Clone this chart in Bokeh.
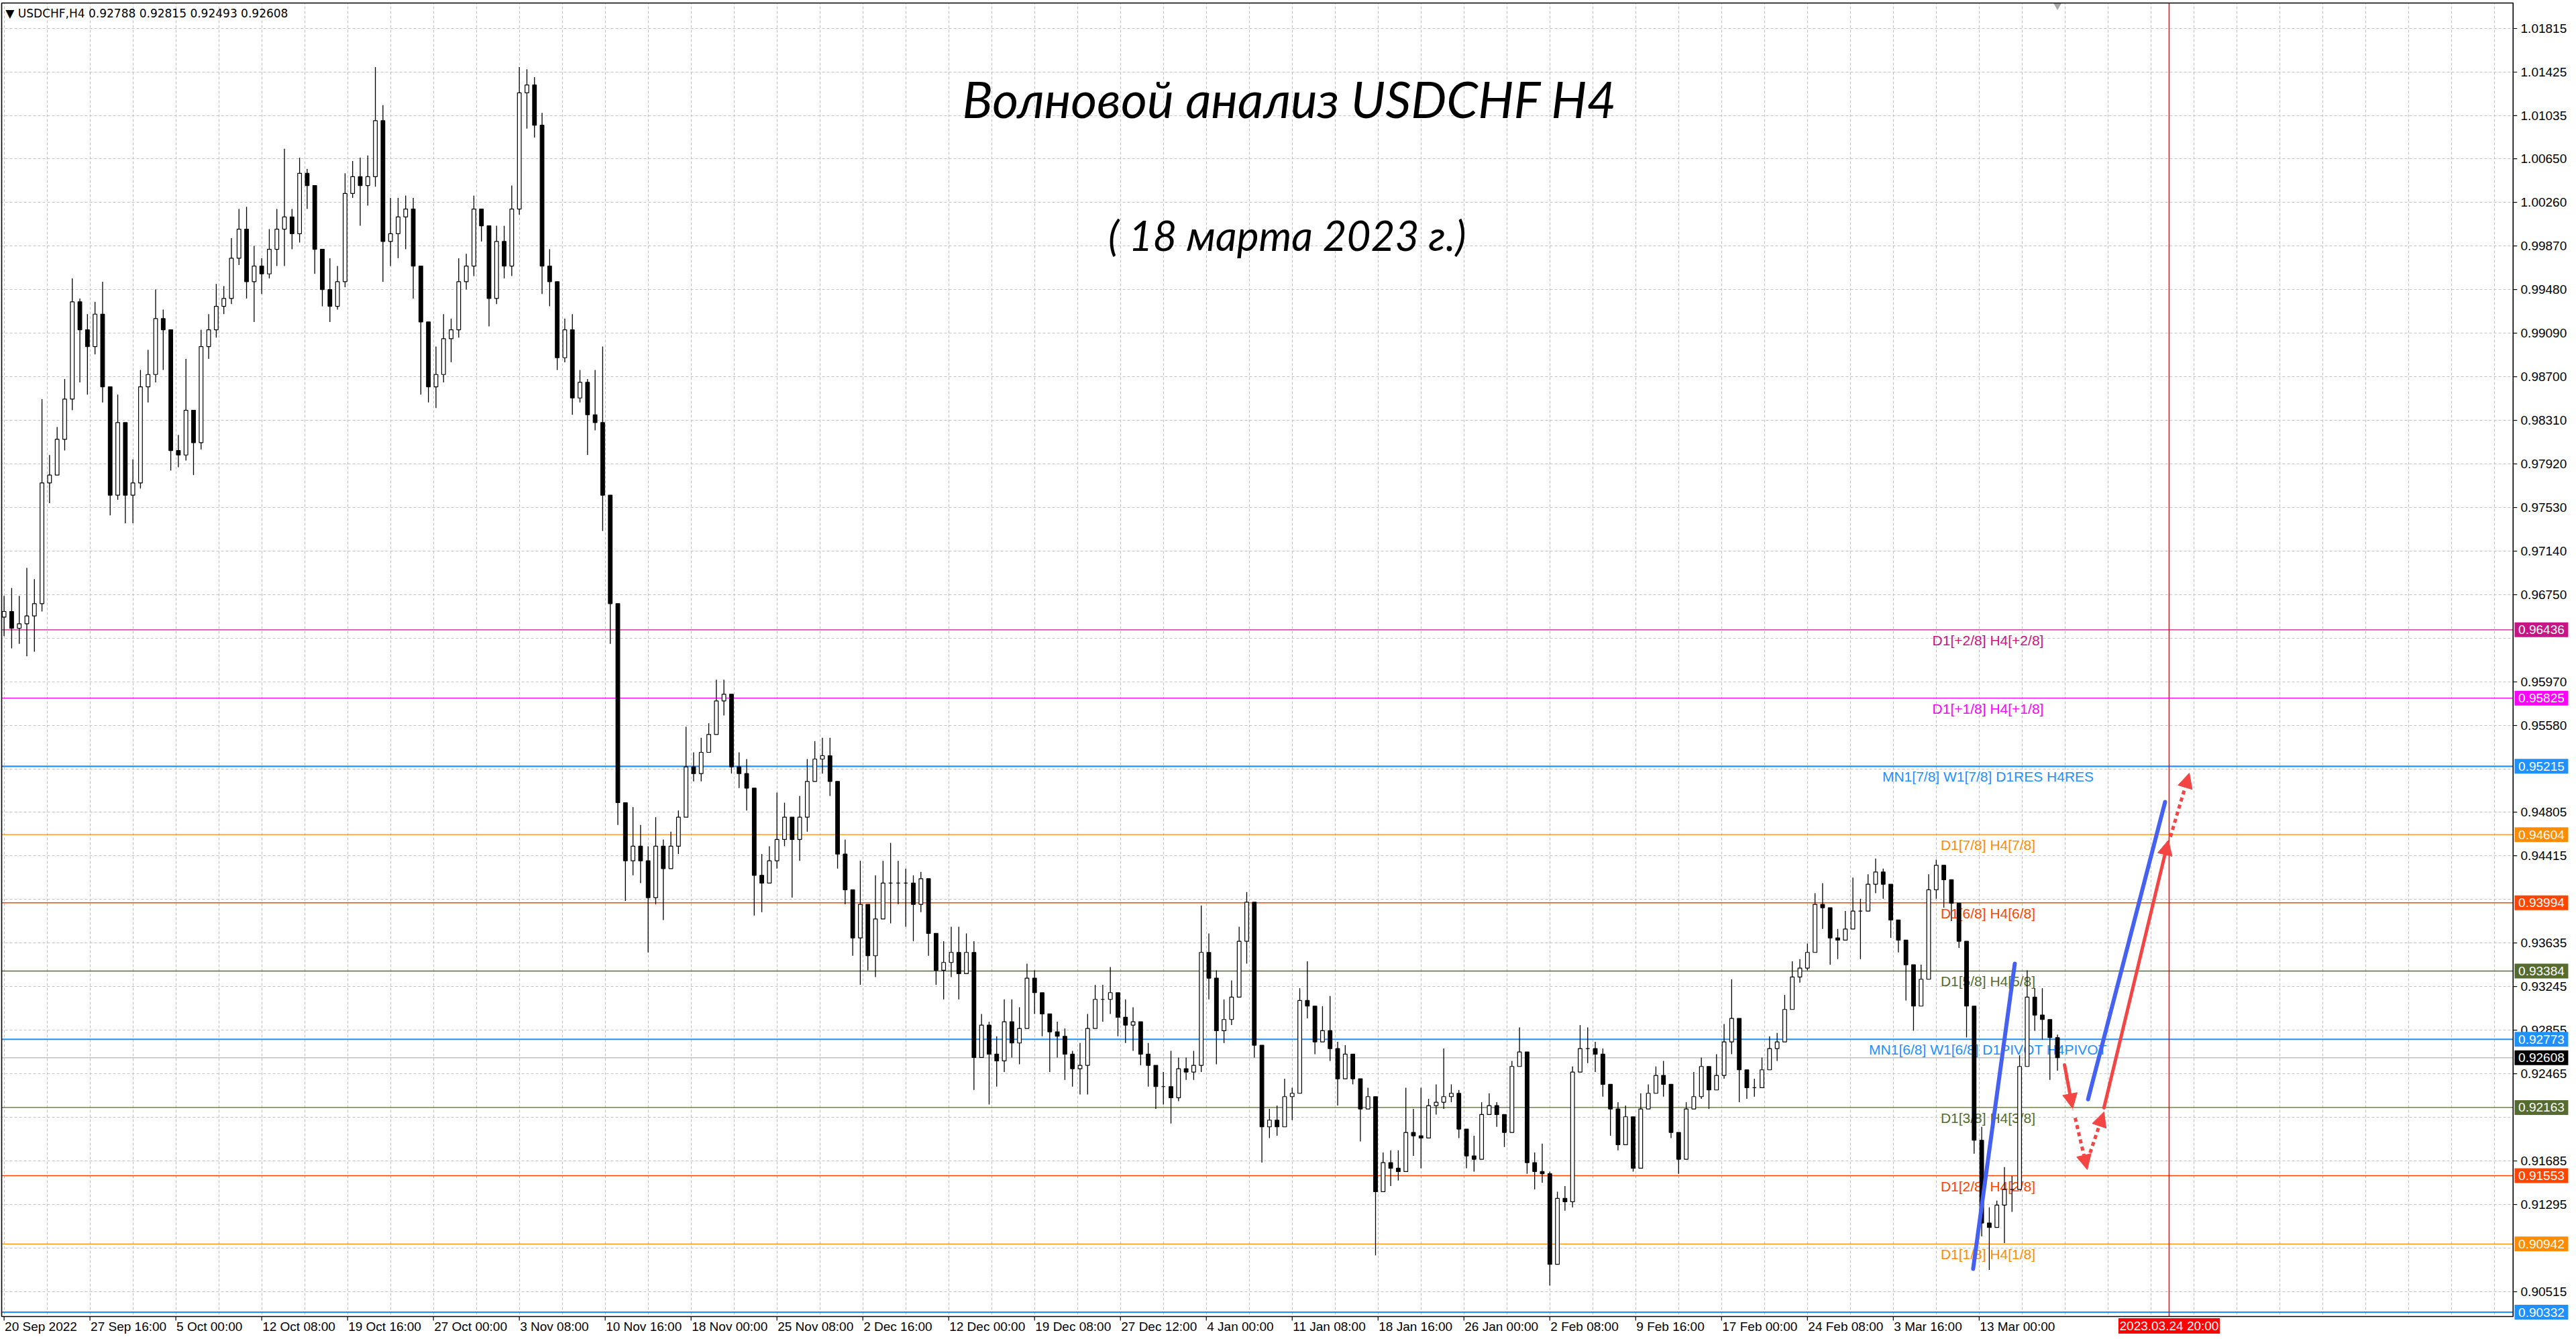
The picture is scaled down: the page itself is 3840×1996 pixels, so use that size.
from bokeh.plotting import figure
from bokeh.models import (ColumnDataSource, FixedTicker, Arrow, NormalHead,
                          Range1d, Grid, Label)
from bokeh.core.properties import value
from bokeh.embed import file_html
from bokeh.resources import INLINE

# USDCHF H4, 20 Sep 2022 .. 17 Mar 2023, one drawn candle per 3 H4 bars
STEP = 3
first_open = 0.9655

closes = [
    0.9660, 0.9645, 0.9649, 0.9656, 0.9667, 0.9775, 0.9782, 0.9814, 0.9850, 0.9937,
    0.9912, 0.9897, 0.9926, 0.9861, 0.9764, 0.9829, 0.9764, 0.9775, 0.9861, 0.9872,
    0.9922, 0.9912, 0.9804, 0.9800, 0.9840, 0.9811, 0.9897, 0.9912, 0.9933, 0.9940,
    0.9976, 1.0002, 0.9955, 0.9969, 0.9962, 0.9984, 1.0002, 1.0013, 0.9998, 1.0052,
    1.0041, 0.9984, 0.9948, 0.9933, 0.9955, 1.0034, 1.0049, 1.0041, 1.0049, 1.0099,
    0.9991, 0.9998, 1.0013, 1.0020, 0.9969, 0.9919, 0.9861, 0.9872, 0.9904, 0.9912,
    0.9955, 0.9969, 1.0020, 1.0005, 0.9940, 0.9991, 0.9969, 1.0020, 1.0124, 1.0131,
    1.0095, 0.9969, 0.9955, 0.9887, 0.9912, 0.9851, 0.9865, 0.9836, 0.9829, 0.9764,
    0.9667,
    0.9489, 0.9437, 0.9450, 0.9437, 0.9404, 0.9450, 0.9430, 0.9450, 0.9476,
    0.9521, 0.9515, 0.9534, 0.9550, 0.9580, 0.9586, 0.9521, 0.9515, 0.9502, 0.9424,
    0.9417, 0.9437, 0.9456, 0.9476, 0.9456, 0.9476, 0.9508, 0.9528, 0.9531, 0.9508,
    0.9443, 0.9411, 0.9368, 0.9398, 0.9352, 0.9385, 0.9417, 0.9417, 0.9417, 0.9417,
    0.9398, 0.9421, 0.9372, 0.9339, 0.9346, 0.9355, 0.9336, 0.9355, 0.9261, 0.9290,
    0.9264, 0.9258, 0.9293, 0.9274, 0.9287, 0.9332, 0.9319, 0.9300, 0.9284, 0.9280,
    0.9264, 0.9251, 0.9254, 0.9287, 0.9313, 0.9313, 0.9319, 0.9297, 0.9290, 0.9293,
    0.9264, 0.9254, 0.9235, 0.9235, 0.9225, 0.9251, 0.9248, 0.9254, 0.9355, 0.9332,
    0.9285, 0.9295, 0.9315, 0.9365, 0.9400, 0.9272,
    0.9199, 0.9205, 0.9199, 0.9226,
    0.9229, 0.9312, 0.9307, 0.9275, 0.9285, 0.9269, 0.9242, 0.9264, 0.9242, 0.9215,
    0.9226, 0.9141, 0.9167, 0.9162, 0.9159, 0.9194, 0.9191, 0.9189, 0.9218, 0.9221,
    0.9226, 0.9229, 0.9197, 0.9173, 0.9170, 0.9210, 0.9218, 0.9210, 0.9194, 0.9253,
    0.9266, 0.9167, 0.9159, 0.9157, 0.9076, 0.9135, 0.9132, 0.9248, 0.9269, 0.9269,
    0.9264, 0.9237, 0.9215, 0.9183, 0.9208, 0.9162, 0.9215, 0.9229, 0.9245, 0.9237,
    0.9194, 0.9170, 0.9215, 0.9226, 0.9253, 0.9232, 0.9245, 0.9275, 0.9296, 0.9250,
    0.9234, 0.9234, 0.9250, 0.9269, 0.9275, 0.9304, 0.9333, 0.9341, 0.9355, 0.9398,
    0.9395, 0.9368, 0.9366, 0.9376, 0.9392, 0.9392, 0.9416, 0.9427, 0.9416, 0.9384,
    0.9366, 0.9344, 0.9307, 0.9331, 0.9411, 0.9433, 0.9420,
    0.9399, 0.9365, 0.9307, 0.9187, 0.9113, 0.9109, 0.9129, 0.9143, 0.9143, 0.9253,
    0.9315, 0.9299, 0.9295, 0.92788, 0.92608,
]

highs = [
    0.9674, 0.9681, 0.9674, 0.9699, 0.9689, 0.9850, 0.9800, 0.9825, 0.9868, 0.9958,
    0.9940, 0.9926, 0.9937, 0.9955, 0.9858, 0.9854, 0.9811, 0.9796, 0.9876, 0.9894,
    0.9948, 0.9930, 0.9868, 0.9818, 0.9886, 0.9825, 0.9912, 0.9926, 0.9953, 0.9951,
    0.9994, 1.0020, 1.0022, 0.9987, 0.9976, 1.0002, 1.0020, 1.0074, 1.0020, 1.0066,
    1.0056, 1.0030, 0.9969, 0.9976, 0.9969, 1.0052, 1.0063, 1.0066, 1.0068, 1.0147,
    1.0113, 1.0030, 1.0030, 1.0032, 1.0030, 0.9940, 0.9879, 0.9897, 0.9926, 0.9922,
    0.9976, 0.9980, 1.0032, 1.0020, 0.9998, 1.0005, 1.0005, 1.0041, 1.0147, 1.0145,
    1.0138, 1.0106, 0.9984, 0.9919, 0.9922, 0.9926, 0.9876, 0.9868, 0.9876, 0.9897,
    0.9696,
    0.9600, 0.9489, 0.9485, 0.9469, 0.9450, 0.9476, 0.9456, 0.9463, 0.9482,
    0.9557, 0.9534, 0.9547, 0.9560, 0.9599, 0.9599, 0.9580, 0.9534, 0.9528, 0.9495,
    0.9443, 0.9450, 0.9498, 0.9489, 0.9476, 0.9495, 0.9528, 0.9544, 0.9547, 0.9547,
    0.9508, 0.9456, 0.9411, 0.9437, 0.9398, 0.9424, 0.9437, 0.9453, 0.9437, 0.9430,
    0.9424, 0.9427, 0.9421, 0.9372, 0.9365, 0.9378, 0.9378, 0.9372, 0.9365, 0.9300,
    0.9293, 0.9280, 0.9313, 0.9313, 0.9306, 0.9345, 0.9339, 0.9319, 0.9300, 0.9293,
    0.9287, 0.9267, 0.9274, 0.9300, 0.9326, 0.9326, 0.9342, 0.9319, 0.9313, 0.9306,
    0.9293, 0.9274, 0.9254, 0.9248, 0.9267, 0.9261, 0.9261, 0.9267, 0.9397, 0.9372,
    0.9339, 0.9313, 0.9330, 0.9378, 0.9409, 0.9400,
    0.9253, 0.9215, 0.9218, 0.9242,
    0.9234, 0.9323, 0.9347, 0.9291, 0.9307, 0.9316, 0.9275, 0.9272, 0.9264, 0.9226,
    0.9234, 0.9226, 0.9176, 0.9178, 0.9178, 0.9234, 0.9215, 0.9234, 0.9224, 0.9237,
    0.9269, 0.9237, 0.9232, 0.9197, 0.9191, 0.9221, 0.9229, 0.9221, 0.9210, 0.9258,
    0.9288, 0.9237, 0.9176, 0.9184, 0.9159, 0.9141, 0.9146, 0.9253, 0.9290, 0.9288,
    0.9275, 0.9269, 0.9224, 0.9221, 0.9218, 0.9199, 0.9229, 0.9237, 0.9253, 0.9258,
    0.9237, 0.9184, 0.9221, 0.9248, 0.9261, 0.9248, 0.9264, 0.9291, 0.9331, 0.9269,
    0.9248, 0.9242, 0.9261, 0.9280, 0.9283, 0.9317, 0.9347, 0.9349, 0.9363, 0.9408,
    0.9417, 0.9384, 0.9376, 0.9392, 0.9422, 0.9403, 0.9425, 0.9439, 0.9430, 0.9414,
    0.9376, 0.9366, 0.9328, 0.9344, 0.9425, 0.9438, 0.9433,
    0.9412, 0.9379, 0.9325, 0.9283, 0.9199, 0.9127, 0.9133, 0.9163, 0.9155, 0.9263,
    0.9339, 0.9323, 0.9323, 0.9287, 0.92815,
]

lows = [
    0.9638, 0.9627, 0.9631, 0.9620, 0.9624, 0.9660, 0.9757, 0.9789, 0.9804, 0.9840,
    0.9865, 0.9854, 0.9890, 0.9847, 0.9746, 0.9760, 0.9739, 0.9739, 0.9770, 0.9847,
    0.9865, 0.9876, 0.9786, 0.9789, 0.9795, 0.9782, 0.9805, 0.9886, 0.9905, 0.9926,
    0.9935, 0.9970, 0.9940, 0.9919, 0.9944, 0.9958, 0.9969, 0.9969, 0.9984, 0.9990,
    1.0020, 0.9962, 0.9933, 0.9919, 0.9930, 0.9950, 1.0030, 1.0005, 1.0023, 1.0040,
    0.9955, 0.9969, 0.9976, 0.9984, 0.9940, 0.9854, 0.9847, 0.9842, 0.9865, 0.9883,
    0.9905, 0.9948, 0.9960, 0.9991, 0.9915, 0.9935, 0.9958, 0.9960, 1.0015, 1.0092,
    1.0084, 0.9944, 0.9933, 0.9876, 0.9883, 0.9836, 0.9847, 0.9800, 0.9822, 0.9732,
    0.9631,
    0.9469, 0.9401, 0.9424, 0.9417, 0.9355, 0.9398, 0.9384, 0.9430, 0.9443,
    0.9476, 0.9508, 0.9508, 0.9534, 0.9550, 0.9567, 0.9515, 0.9502, 0.9482, 0.9388,
    0.9391, 0.9417, 0.9430, 0.9450, 0.9404, 0.9437, 0.9463, 0.9508, 0.9515, 0.9495,
    0.9430, 0.9398, 0.9352, 0.9326, 0.9339, 0.9333, 0.9385, 0.9381, 0.9398, 0.9378,
    0.9365, 0.9391, 0.9352, 0.9326, 0.9313, 0.9333, 0.9313, 0.9336, 0.9232, 0.9261,
    0.9219, 0.9235, 0.9248, 0.9261, 0.9255, 0.9287, 0.9300, 0.9280, 0.9248, 0.9261,
    0.9241, 0.9235, 0.9228, 0.9228, 0.9287, 0.9293, 0.9300, 0.9280, 0.9274, 0.9267,
    0.9254, 0.9235, 0.9215, 0.9219, 0.9202, 0.9222, 0.9241, 0.9241, 0.9248, 0.9313,
    0.9255, 0.9274, 0.9290, 0.9315, 0.9345, 0.9261,
    0.9167, 0.9189, 0.9191, 0.9210,
    0.9205, 0.9229, 0.9296, 0.9264, 0.9275, 0.9258, 0.9218, 0.9253, 0.9237, 0.9186,
    0.9215, 0.9084, 0.9141, 0.9146, 0.9151, 0.9159, 0.9173, 0.9162, 0.9191, 0.9210,
    0.9215, 0.9221, 0.9189, 0.9162, 0.9159, 0.9189, 0.9210, 0.9199, 0.9181, 0.9232,
    0.9253, 0.9157, 0.9143, 0.9149, 0.9057, 0.9076, 0.9124, 0.9127, 0.9253, 0.9256,
    0.9248, 0.9226, 0.9191, 0.9178, 0.9189, 0.9159, 0.9189, 0.9215, 0.9232, 0.9226,
    0.9189, 0.9157, 0.9173, 0.9215, 0.9224, 0.9215, 0.9232, 0.9242, 0.9264, 0.9221,
    0.9224, 0.9226, 0.9242, 0.9253, 0.9258, 0.9285, 0.9317, 0.9328, 0.9339, 0.9368,
    0.9376, 0.9344, 0.9349, 0.9366, 0.9379, 0.9349, 0.9398, 0.9408, 0.9403, 0.9368,
    0.9355, 0.9312, 0.9285, 0.9307, 0.9344, 0.9403, 0.9395,
    0.9383, 0.9359, 0.9279, 0.9175, 0.9101, 0.9071, 0.9109, 0.9095, 0.9123, 0.9143,
    0.9263, 0.9285, 0.9277, 0.9241, 0.92493,
]

# time scale (bar numbers) and its labels
x_ticks = [0, 34, 68, 102, 136, 170, 204, 238, 272, 306, 340, 374,
           408, 442, 476, 510, 544, 578, 612, 646, 680, 714, 748, 782]
x_labels = ["20 Sep 2022", "27 Sep 16:00", "5 Oct 00:00", "12 Oct 08:00",
            "19 Oct 16:00", "27 Oct 00:00", "3 Nov 08:00", "10 Nov 16:00",
            "18 Nov 00:00", "25 Nov 08:00", "2 Dec 16:00", "12 Dec 00:00",
            "19 Dec 08:00", "27 Dec 12:00", "4 Jan 00:00", "11 Jan 08:00",
            "18 Jan 16:00", "26 Jan 00:00", "2 Feb 08:00", "9 Feb 16:00",
            "17 Feb 00:00", "24 Feb 08:00", "3 Mar 16:00", "13 Mar 00:00"]
x_grid = list(range(0, 994, 17))
future_bar = 857.2
future_label = "2023.03.24 20:00"

y_ticks = [1.01815, 1.01425, 1.01035, 1.00650, 1.00260, 0.99870, 0.99480,
           0.99090, 0.98700, 0.98310, 0.97920, 0.97530, 0.97140, 0.96750,
           0.96360, 0.95970, 0.95580, 0.95190, 0.94805, 0.94415, 0.94025,
           0.93635, 0.93245, 0.92855, 0.92465, 0.92075, 0.91685, 0.91295,
           0.90905, 0.90515]
hidden_ticks = [0.96360, 0.95190, 0.94025, 0.92075, 0.90905]

# Murrey math levels
levels = [0.96436, 0.95825, 0.95215, 0.94604, 0.93994, 0.93384,
          0.92773, 0.92163, 0.91553, 0.90942, 0.90332]
level_names = ["D1[+2/8] H4[+2/8]", "D1[+1/8] H4[+1/8]",
               "MN1[7/8] W1[7/8] D1RES H4RES", "D1[7/8] H4[7/8]",
               "D1[6/8] H4[6/8]", "D1[5/8] H4[5/8]",
               "MN1[6/8] W1[6/8] D1PIVOT H4PIVOT", "D1[3/8] H4[3/8]",
               "D1[2/8] H4[2/8]", "D1[1/8] H4[1/8]", ""]
level_colors = ["#C71585", "#FF00FF", "#1E90FF", "#FF8C00", "#FF4500",
                "#556B2F", "#1E90FF", "#556B2F", "#FF4500", "#FF8C00",
                "#1E90FF"]
bid = 0.92608
ohlc_text = "\u25bc USDCHF,H4  0.92788 0.92815 0.92493 0.92608"

# hand drawn wave sketch (bar, price)
blue_x0 = [779.6, 825.1]
blue_y0 = [0.90719, 0.92236]
blue_x1 = [796.1, 855.6]
blue_y1 = [0.93450, 0.94896]
solid_arrows = [(831.4, 0.92160, 856.9, 0.94554), (815.8, 0.92543, 819.0, 0.92154)]
dotted_arrows = [(857.7, 0.94584, 865.2, 0.95154), (820.0, 0.92070, 824.8, 0.91607),
                 (825.9, 0.91757, 831.4, 0.92124)]

# page geometry in data units (bars / price)
W, H = 3838, 1994
X0, X1 = -1.487, 1017.90
Y0, Y1 = 0.901011, 1.020670
PL, PR = -0.956, 993.4          # chart box left / right
PB, PT = 0.902932, 1.020430     # chart box bottom / top
BOX_X = 1004.6                  # centre of the price boxes on the scale
TICK_DX = 1.6
TICK_DY = 0.00036
FONT = value("Liberation Sans")

xs = [i * STEP for i in range(len(closes))]
opens = [first_open] + closes[:-1]
his = [max(h, o, c) for h, o, c in zip(highs, opens, closes)]
los = [min(l, o, c) for l, o, c in zip(lows, opens, closes)]
up = [c >= o for o, c in zip(opens, closes)]

src = ColumnDataSource(dict(
    x=xs, top=[max(o, c) for o, c in zip(opens, closes)],
    bottom=[min(o, c) for o, c in zip(opens, closes)],
    hi=his, lo=los,
    fill=["white" if u else "black" for u in up],
))

p = figure(width=W, height=H, x_range=Range1d(X0, X1), y_range=Range1d(Y0, Y1),
           x_axis_location=None, y_axis_location=None,
           toolbar_location=None, output_backend="svg",
           min_border_left=0, min_border_top=0, min_border_right=0,
           min_border_bottom=0)
p.outline_line_color = None
p.background_fill_color = "white"
p.border_fill_color = "white"
p.center = [r for r in p.center if not isinstance(r, Grid)]
for dim, ticks in ((0, x_grid), (1, y_ticks)):
    p.add_layout(Grid(dimension=dim, ticker=FixedTicker(ticks=ticks),
                      grid_line_color="#c4c4c4", grid_line_dash="4 3",
                      grid_line_width=1.2))

# hide the grid outside the chart box
p.quad(left=[PR, X0, X0, X0], right=[X1, X1, PL, X1],
       bottom=[Y0, Y0, Y0, PT], top=[Y1, PB, Y1, Y1],
       fill_color="white", line_color=None)

# level lines, bid line, future time line
p.segment(x0=[PL] * len(levels), y0=levels, x1=[PR] * len(levels), y1=levels,
          line_color=level_colors,
          line_width=[2.2 if c == "#1E90FF" else 1.4 for c in level_colors])
p.segment(x0=[PL], y0=[bid], x1=[PR], y1=[bid], line_color="#c0c0c0", line_width=1.5)
p.segment(x0=[future_bar], y0=[PB], x1=[future_bar], y1=[PT], line_color="red",
          line_width=1.5)

lsrc = ColumnDataSource(dict(x=[785.5] * len(levels), y=levels,
                             t=level_names, c=level_colors))
p.text(x="x", y="y", text="t", text_color="c", source=lsrc, text_align="center",
       text_baseline="top", y_offset=4, text_font=FONT, text_font_size="21px")

# candles
p.segment(x0="x", y0="lo", x1="x", y1="hi", source=src, line_color="black", line_width=1.3)
p.vbar(x="x", top="top", bottom="bottom", width=1.5, source=src,
       fill_color="fill", line_color="black", line_width=1.2)

# wave sketch
p.segment(x0=blue_x0, y0=blue_y0, x1=blue_x1, y1=blue_y1, line_color="#4561F2",
          line_width=6, line_cap="round")
red = "#F44545"
for x0, y0, x1, y1 in solid_arrows:
    p.add_layout(Arrow(x_start=x0, y_start=y0, x_end=x1, y_end=y1, line_color=red,
                       line_width=5, line_cap="round",
                       end=NormalHead(size=22, fill_color=red, line_color=red)))
for x0, y0, x1, y1 in dotted_arrows:
    p.add_layout(Arrow(x_start=x0, y_start=y0, x_end=x1, y_end=y1, line_color=red,
                       line_width=5, line_dash="6 5",
                       end=NormalHead(size=22, fill_color=red, line_color=red)))

p.scatter(x=[xs[-1]], y=[PT - 0.0002], marker="inverted_triangle", size=11,
          color="#a8a8a8")

# chart box
p.quad(left=[PL], right=[PR], bottom=[PB], top=[PT], fill_color=None,
       line_color="black", line_width=1.6)

# price scale
shown = [t for t in y_ticks if t not in hidden_ticks]
p.segment(x0=[PR] * len(shown), y0=shown, x1=[PR + TICK_DX] * len(shown), y1=shown,
          line_color="black", line_width=1.2)
p.text(x=[PR + 3] * len(shown), y=shown, text=[f"{t:.5f}" for t in shown],
       text_baseline="middle", text_align="left", text_font=FONT,
       text_font_size="19px", text_color="black")

# time scale
p.segment(x0=x_ticks, y0=[PB] * len(x_ticks), x1=x_ticks,
          y1=[PB - TICK_DY] * len(x_ticks), line_color="black", line_width=1.2)
p.text(x=x_ticks, y=[PB] * len(x_ticks), text=x_labels, text_baseline="top",
       text_align="left", x_offset=1, y_offset=5, text_font=FONT,
       text_font_size="19px", text_color="black")

# price boxes
box_prices = levels + [bid]
box_colors = level_colors + ["black"]
p.rect(x=[BOX_X] * len(box_prices), y=box_prices, width=80, height=22,
       width_units="screen", height_units="screen", fill_color=box_colors,
       line_color=None)
p.text(x=[BOX_X] * len(box_prices), y=box_prices,
       text=[f"{v:.5f}" for v in box_prices], text_align="center",
       text_baseline="middle", text_font=FONT, text_font_size="19px",
       text_color="white")
p.rect(x=[future_bar], y=[PB - 0.00084], width=151, height=23, width_units="screen",
       height_units="screen", fill_color="red", line_color=None)
p.text(x=[future_bar], y=[PB - 0.00084], text=[future_label], text_align="center",
       text_baseline="middle", text_font=FONT, text_font_size="19px",
       text_color="white")

p.add_layout(Label(x=0.6, y=1.01950, text=ohlc_text, text_baseline="middle",
                   text_font="DejaVu Sans", text_font_size="17px", text_color="black"))

p.add_layout(Label(x=509, y=1.01185, text="Волновой анализ USDCHF H4",
                   text_align="center", text_baseline="middle", text_font="Lato",
                   text_font_style="italic", text_font_size="75px", text_color="black"))
p.add_layout(Label(x=508, y=0.99967, text="( 18 марта 2023 г.)",
                   text_align="center", text_baseline="middle", text_font="Lato",
                   text_font_style="italic", text_font_size="62px", text_color="black"))

open("out.html", "w").write(file_html(p, INLINE, title="USDCHF H4"))
